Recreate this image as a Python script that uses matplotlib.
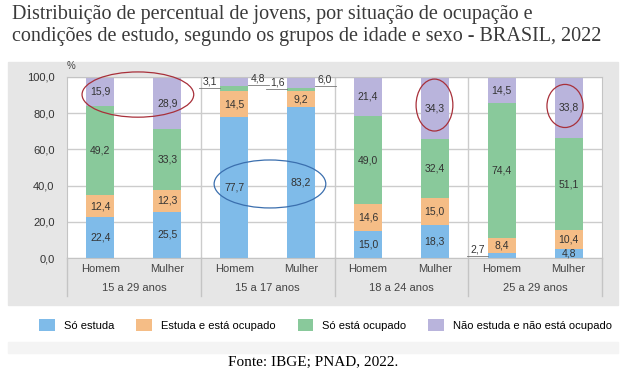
import numpy as np
import matplotlib.pyplot as plt
from matplotlib.patches import Rectangle, Ellipse, Patch

grupos = ['15 a 29 anos', '15 a 17 anos', '18 a 24 anos', '25 a 29 anos']
sexos = ['Homem', 'Mulher']
series = ['Só estuda', 'Estuda e está ocupado', 'Só está ocupado',
          'Não estuda e não está ocupado']
cores = ['#7fbbe9', '#f5bd86', '#89c99b', '#b9b4dc']

# valores por barra: H, M para cada grupo de idade
so_estuda = [22.4, 25.5, 77.7, 83.2, 15.0, 18.3, 2.7, 4.8]
estuda_ocupado = [12.4, 12.3, 14.5, 9.2, 14.6, 15.0, 8.4, 10.4]
so_ocupado = [49.2, 33.3, 3.1, 1.6, 49.0, 32.4, 74.4, 51.1]
nao_estuda = [15.9, 28.9, 4.8, 6.0, 21.4, 34.3, 14.5, 33.8]

dados = [so_estuda, estuda_ocupado, so_ocupado, nao_estuda]

fig = plt.figure(figsize=(6.26, 3.75), dpi=100)
fig.patch.set_facecolor('white')

# fundo cinza do painel e faixa clara abaixo da legenda
fig.patches.append(Rectangle((8/626, 1 - 305/375), 610/626, 243/375,
                             transform=fig.transFigure, color='#e6e6e6', zorder=-10))
fig.patches.append(Rectangle((8/626, 1 - 353/375), 610/626, 11/375,
                             transform=fig.transFigure, color='#f4f4f4', zorder=-10))

ax = fig.add_axes([67/626, 1 - 258/375, 535/626, 181/375])
ax.set_zorder(1)
ax.set_facecolor('white')

x = np.arange(8) + 0.5
w = 0.42
base = np.zeros(8)
for vals, cor in zip(dados, cores):
    ax.bar(x, vals, w, bottom=base, color=cor, zorder=2)
    base = base + np.array(vals)

# rótulos dos valores (os pequenos ficam fora da barra, sublinhados)
pequenos = {(2, 2): 'l', (3, 2): 'r', (2, 3): 'l', (3, 3): 'r', (0, 6): 'l'}
for s, vals in enumerate(dados):
    fundo = np.sum(dados[:s], axis=0) if s > 0 else np.zeros(8)
    for i, v in enumerate(vals):
        txt = f'{v:.1f}'.replace('.', ',')
        lado = pequenos.get((s, i))
        if lado is None:
            ax.text(x[i], fundo[i] + v / 2, txt, ha='center', va='center',
                    fontsize=7.5, color='#333333', family='Liberation Sans', zorder=3)
            continue
        yy = fundo[i] + v / 2 - (2 if s == 3 else 0)
        if lado == 'l':
            x0 = x[i] - w / 2 - 0.04
            ax.text(x0, yy + 0.8, txt, ha='right', va='bottom', fontsize=7.5,
                    color='#333333', family='Liberation Sans', zorder=3)
            ax.plot([x0 - 0.27, x[i] - w / 2], [yy, yy], color='#777777', lw=0.6,
                    clip_on=False, zorder=3)
        else:
            x0 = x[i] + w / 2 + 0.04
            ax.text(x0, yy + 0.8, txt, ha='left', va='bottom', fontsize=7.5,
                    color='#333333', family='Liberation Sans', zorder=3)
            ax.plot([x[i] + w / 2, x0 + 0.27], [yy, yy], color='#777777', lw=0.6,
                    clip_on=False, zorder=3)

ax.set_xlim(0, 8)
ax.set_ylim(0, 100)
ax.set_yticks([0, 20, 40, 60, 80, 100])
ax.set_yticklabels(['0,0', '20,0', '40,0', '60,0', '80,0', '100,0'])
ax.tick_params(axis='y', length=0, pad=9, labelsize=8, labelcolor='#333333')
ax.set_xticks(x)
ax.set_xticklabels(sexos * 4)
ax.tick_params(axis='x', length=0, pad=4, labelsize=8, labelcolor='#444444')
for lab in ax.get_xticklabels() + ax.get_yticklabels():
    lab.set_family('Liberation Sans')
ax.yaxis.grid(True, color='#cccccc', lw=1, zorder=1)
for xs in [2, 4, 6]:
    ax.axvline(xs, color='#cccccc', lw=1, zorder=1)
for sp in ax.spines.values():
    sp.set_color('#c4c4c4')

trans = ax.get_xaxis_transform()
for g, nome in enumerate(grupos):
    ax.text(2 * g + 1, -0.165, nome, transform=trans, ha='center', va='center',
            fontsize=8, color='#444444', family='Liberation Sans')
for xs in [0, 2, 4, 6, 8]:
    ax.plot([xs, xs], [0, -0.21], transform=trans, color='#c4c4c4', lw=1, clip_on=False)

ax.text(0.0, 1.035, '%', transform=ax.transAxes, fontsize=7, color='#444444',
        family='Liberation Sans', ha='left', va='bottom')

# destaques
ax.add_patch(Ellipse((1.06, 90.3), 1.67, 25, fill=False, ec='#a8303a', lw=0.9,
                     clip_on=False, zorder=4))
ax.add_patch(Ellipse((3.035, 40.9), 1.67, 26.5, fill=False, ec='#3b6fae', lw=0.9,
                     clip_on=False, zorder=4))
ax.add_patch(Ellipse((5.495, 84.5), 0.55, 28.7, fill=False, ec='#a8303a', lw=0.9,
                     clip_on=False, zorder=4))
ax.add_patch(Ellipse((7.447, 84.0), 0.54, 23.8, fill=False, ec='#a8303a', lw=0.9,
                     clip_on=False, zorder=4))

fig.text(12/626, 1 - 15/375,
         'Distribuição de percentual de jovens, por situação de ocupação e',
         fontsize=14.5, family='Liberation Serif', color='#3a3a3a', va='center', ha='left')
fig.text(12/626, 1 - 37/375,
         'condições de estudo, segundo os grupos de idade e sexo - BRASIL, 2022',
         fontsize=14.5, family='Liberation Serif', color='#3a3a3a', va='center', ha='left')

handles = [Patch(facecolor=c, edgecolor='none') for c in cores]
fig.legend(handles, series, loc='center', bbox_to_anchor=(0.52, 1 - 325/375), ncol=4,
           frameon=False, handlelength=1.4, handleheight=1.4, handletextpad=0.8,
           columnspacing=2.0, prop={'family': 'Liberation Sans', 'size': 8})

fig.text(0.5, 1 - 362/375, 'Fonte: IBGE; PNAD, 2022.', fontsize=11,
         family='Liberation Serif', ha='center', va='center', color='black')

fig.savefig('out.png', dpi=100)
